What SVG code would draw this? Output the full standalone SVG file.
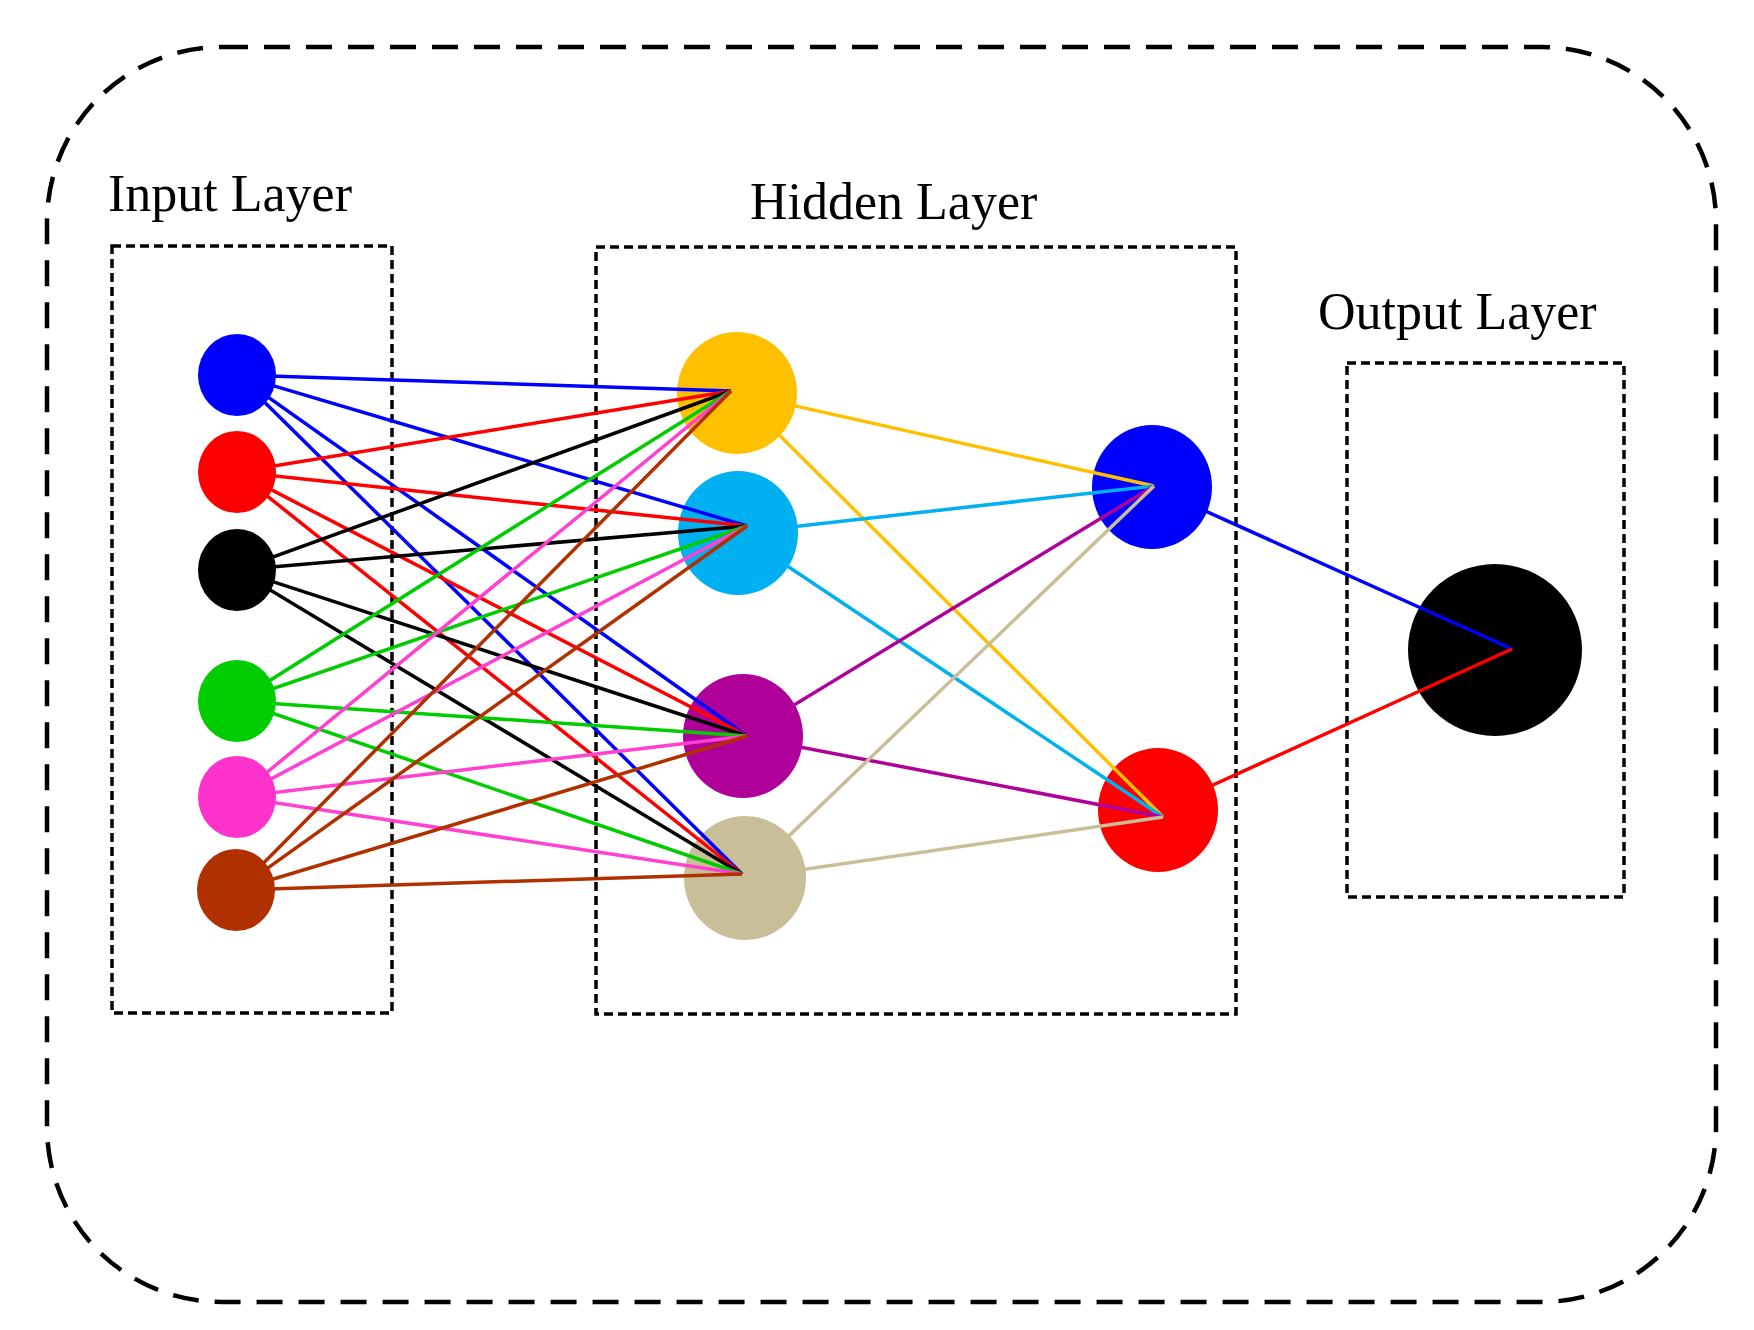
<svg xmlns="http://www.w3.org/2000/svg" width="1754" height="1330" viewBox="0 0 1754 1330">
<style>
.outer{fill:none;stroke:#000;stroke-width:4.5;stroke-dasharray:26 16}
.box{fill:none;stroke:#000;stroke-width:3.5;stroke-dasharray:9 5}
.lbl{font-family:"Liberation Serif",serif;font-size:52px;fill:#000}
#connectors line{stroke-width:3.5}
</style>
<rect width="1754" height="1330" fill="#fff"/>
<rect class="outer" x="47" y="47" width="1669" height="1255" rx="175" ry="175"/>
<g id="input-layer"><rect class="box" x="112" y="246" width="280" height="767"/><text class="lbl" x="108" y="211">Input Layer</text></g>
<g id="hidden-layer"><rect class="box" x="596" y="247" width="640" height="767"/><text class="lbl" x="750" y="219">Hidden Layer</text></g>
<g id="output-layer"><rect class="box" x="1347" y="363" width="277" height="534"/><text class="lbl" x="1318" y="329">Output Layer</text></g>
<g id="out"><ellipse cx="1495" cy="650" rx="87" ry="86" fill="#000"/></g>
<g id="connectors">
<g id="l3">
<line x1="1152" y1="487" x2="1512" y2="649" stroke="#0000ff"/>
<line x1="1158" y1="810" x2="1512" y2="649" stroke="#ff0000"/>
</g>
</g>
<g id="h2a"><ellipse cx="1152" cy="487" rx="60" ry="62" fill="#0000ff"/></g>
<g id="h2b"><ellipse cx="1158" cy="810" rx="60" ry="62" fill="#ff0000"/></g>
<g id="connectors2">
<line x1="737" y1="393" x2="1154" y2="486" stroke="#ffc000" stroke-width="3.5"/>
<line x1="737" y1="393" x2="1163" y2="817" stroke="#ffc000" stroke-width="3.5"/>
<line x1="738" y1="533" x2="1154" y2="486" stroke="#00b0f0" stroke-width="3.5"/>
<line x1="738" y1="533" x2="1163" y2="817" stroke="#00b0f0" stroke-width="3.5"/>
<line x1="743" y1="736" x2="1154" y2="486" stroke="#b0009a" stroke-width="3.5"/>
<line x1="743" y1="736" x2="1163" y2="817" stroke="#b0009a" stroke-width="3.5"/>
<line x1="745" y1="878" x2="1154" y2="486" stroke="#c8bf99" stroke-width="3.5"/>
<line x1="745" y1="878" x2="1163" y2="817" stroke="#c8bf99" stroke-width="3.5"/>
</g>
<g id="h1a"><ellipse cx="737" cy="393" rx="60" ry="61" fill="#ffc000"/></g>
<g id="h1b"><ellipse cx="738" cy="533" rx="60" ry="62" fill="#00b0f0"/></g>
<g id="h1c"><ellipse cx="743" cy="736" rx="60" ry="62" fill="#b0009a"/></g>
<g id="h1d"><ellipse cx="745" cy="878" rx="61" ry="62" fill="#c8bf99"/></g>
<g id="connectors3" stroke-width="3.5">
<g stroke="#0000ff"><line x1="237" y1="375" x2="731" y2="391"/><line x1="237" y1="375" x2="747" y2="526"/><line x1="237" y1="375" x2="747" y2="736"/><line x1="237" y1="375" x2="742" y2="874"/></g>
<g stroke="#ff0000"><line x1="237" y1="472" x2="731" y2="391"/><line x1="237" y1="472" x2="747" y2="526"/><line x1="237" y1="472" x2="747" y2="736"/><line x1="237" y1="472" x2="742" y2="874"/></g>
<g stroke="#000"><line x1="237" y1="570" x2="731" y2="391"/><line x1="237" y1="570" x2="747" y2="526"/><line x1="237" y1="570" x2="747" y2="736"/><line x1="237" y1="570" x2="742" y2="874"/></g>
<g stroke="#00cc00"><line x1="237" y1="701" x2="731" y2="391"/><line x1="237" y1="701" x2="747" y2="526"/><line x1="237" y1="701" x2="747" y2="736"/><line x1="237" y1="701" x2="742" y2="874"/></g>
<g stroke="#ff40d0"><line x1="237" y1="797" x2="731" y2="391"/><line x1="237" y1="797" x2="747" y2="526"/><line x1="237" y1="797" x2="747" y2="736"/><line x1="237" y1="797" x2="742" y2="874"/></g>
<g stroke="#b03000"><line x1="237" y1="890" x2="731" y2="391"/><line x1="237" y1="890" x2="747" y2="526"/><line x1="237" y1="890" x2="747" y2="736"/><line x1="237" y1="890" x2="742" y2="874"/></g>
</g>
<g id="i1"><ellipse cx="237" cy="375" rx="39" ry="41" fill="#0000ff"/></g>
<g id="i2"><ellipse cx="237" cy="472" rx="39" ry="41" fill="#ff0000"/></g>
<g id="i3"><ellipse cx="237" cy="570" rx="39" ry="41" fill="#000"/></g>
<g id="i4"><ellipse cx="237" cy="701" rx="39" ry="41" fill="#00cc00"/></g>
<g id="i5"><ellipse cx="237" cy="797" rx="39" ry="41" fill="#ff33cc"/></g>
<g id="i6"><ellipse cx="236" cy="890" rx="39" ry="41" fill="#b03000"/></g>
</svg>
